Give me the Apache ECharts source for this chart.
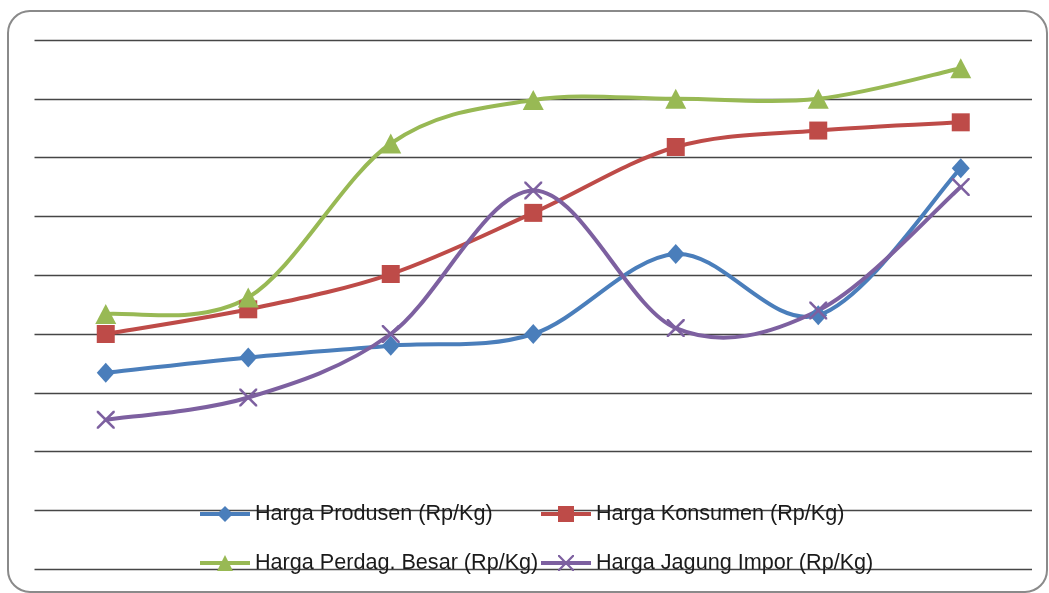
<!DOCTYPE html>
<html>
<head>
<meta charset="utf-8">
<script src="https://cdn.jsdelivr.net/npm/echarts@6/dist/echarts.min.js"></script>
<style>
  html, body { margin: 0; padding: 0; background: #ffffff; }
  #chart { width: 1049px; height: 593px; }
</style>
</head>
<body>
<div id="chart"></div>
<script>
// Periods along the x axis (unlabelled)
const categories = ['1', '2', '3', '4', '5', '6', '7'];

// Prices in Rp/Kg
const hargaProdusen = [1670, 1800, 1900, 2000, 2680, 2160, 3410];
const hargaKonsumen = [2000, 2210, 2510, 3030, 3590, 3730, 3800];
const hargaPerdagBesar = [2170, 2310, 3620, 3990, 4000, 4000, 4260];
const hargaJagungImpor = [1270, 1460, 2000, 3220, 2050, 2200, 3250];

const seriesNames = [
  'Harga Produsen (Rp/Kg)',
  'Harga Konsumen (Rp/Kg)',
  'Harga Perdag. Besar (Rp/Kg)',
  'Harga Jagung Impor (Rp/Kg)'
];

const yTicks = { min: 0, max: 4500, interval: 500 };

const crossPath = 'path://M0,0 L2,0 L10,8 L18,0 L20,0 L20,2 L12,10 L20,18 L20,20 L18,20 L10,12 L2,20 L0,20 L0,18 L8,10 L0,2 Z';

// Catmull-Rom style curve: each data item draws the cubic segment to the next point,
// with control points taken from the neighbouring points in pixel space.
function curveSeries(id, values, color) {
  return {
    id: id,
    type: 'custom',
    data: values.map((v, i) => [i, v]),
    encode: { x: 0, y: 1 },
    silent: true,
    renderItem: function (params, api) {
      const i = params.dataIndex;
      const n = values.length;
      if (i >= n - 1) return null;
      const pt = (k) => {
        const j = Math.max(0, Math.min(n - 1, k));
        return api.coord([j, values[j]]);
      };
      const p0 = pt(i - 1), p1 = pt(i), p2 = pt(i + 1), p3 = pt(i + 2);
      return {
        type: 'bezierCurve',
        shape: {
          x1: p1[0], y1: p1[1],
          x2: p2[0], y2: p2[1],
          cpx1: p1[0] + (p2[0] - p0[0]) / 6, cpy1: p1[1] + (p2[1] - p0[1]) / 6,
          cpx2: p2[0] - (p3[0] - p1[0]) / 6, cpy2: p2[1] - (p3[1] - p1[1]) / 6
        },
        style: { stroke: color, lineWidth: 4, fill: null, lineCap: 'round' }
      };
    }
  };
}

// Markers (and legend entry) for one series; the curve itself comes from curveSeries
function markerSeries(name, values, color, symbol, size) {
  return {
    name: name,
    type: 'line',
    data: values,
    symbol: symbol,
    symbolSize: size,
    showAllSymbol: true,
    lineStyle: { color: color, width: 4, opacity: 0 },
    itemStyle: { color: color },
    emphasis: { disabled: true }
  };
}

const legendFont = {
  fontFamily: "'Liberation Sans', Arial, sans-serif",
  fontSize: 21.6,
  color: '#1a1a1a'
};

function legendAt(name, left, top) {
  return {
    data: [name],
    left: left,
    top: top,
    itemWidth: 50,
    itemHeight: 20,
    itemGap: 0,
    padding: 0,
    selectedMode: false,
    lineStyle: { width: 4, opacity: 1 },
    textStyle: legendFont
  };
}

const chart = echarts.init(document.getElementById('chart'), null, { renderer: 'canvas' });

chart.setOption({
  animation: false,
  backgroundColor: '#ffffff',
  graphic: [{
    type: 'rect',
    shape: { x: 8, y: 11, width: 1039, height: 581, r: 22 },
    style: { fill: 'none', stroke: '#8a8a8a', lineWidth: 2 },
    z: -1,
    silent: true
  }],
  grid: { left: 34.5, right: 17, top: 40, bottom: 23.8 },
  xAxis: {
    type: 'category',
    data: categories,
    boundaryGap: true,
    axisLine: { show: false },
    axisTick: { show: false },
    axisLabel: { show: false },
    splitLine: { show: false }
  },
  yAxis: {
    type: 'value',
    min: yTicks.min,
    max: yTicks.max,
    interval: yTicks.interval,
    axisLine: { show: false },
    axisTick: { show: false },
    axisLabel: { show: false },
    splitLine: { show: true, lineStyle: { color: '#464646', width: 1.4 } }
  },
  legend: [
    legendAt(seriesNames[0], 198, 503),
    legendAt(seriesNames[1], 539, 503),
    legendAt(seriesNames[2], 198, 552),
    legendAt(seriesNames[3], 539, 552)
  ],
  series: [
    curveSeries('curve-produsen', hargaProdusen, '#4a7ebb'),
    markerSeries(seriesNames[0], hargaProdusen, '#4a7ebb', 'diamond', [18, 20]),
    curveSeries('curve-konsumen', hargaKonsumen, '#be4b48'),
    markerSeries(seriesNames[1], hargaKonsumen, '#be4b48', 'rect', 18),
    curveSeries('curve-perdag', hargaPerdagBesar, '#98b954'),
    markerSeries(seriesNames[2], hargaPerdagBesar, '#98b954', 'triangle', [21, 20]),
    curveSeries('curve-impor', hargaJagungImpor, '#7d60a0'),
    markerSeries(seriesNames[3], hargaJagungImpor, '#7d60a0', crossPath, 18)
  ]
});
</script>
</body>
</html>
